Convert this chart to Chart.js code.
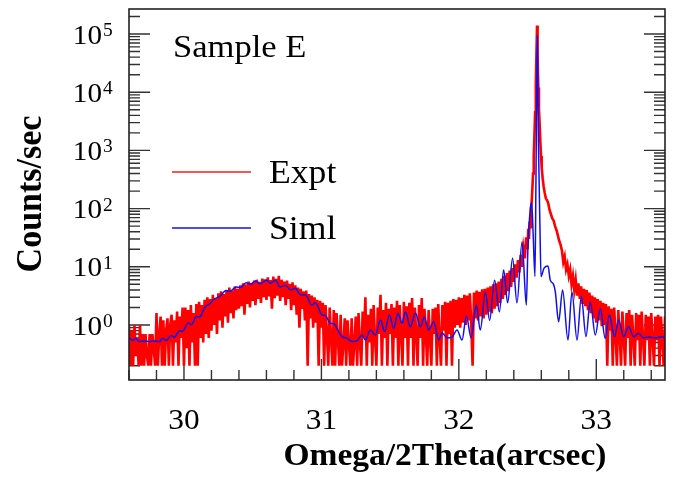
<!DOCTYPE html>
<html><head><meta charset="utf-8">
<script src="https://cdn.jsdelivr.net/npm/chart.js@4.4.0/dist/chart.umd.min.js"></script>
<style>html,body{margin:0;padding:0;background:#fff}#wrap{width:674px;height:477px}</style>
</head><body><div id="wrap"><canvas id="c" width="674" height="477"></canvas></div>
<script>
// ---- data ----
const exptX=[
29.60,29.61,29.62,29.63,29.64,29.65,29.66,29.67,29.68,29.69,
29.70,29.71,29.72,29.73,29.74,29.75,29.76,29.77,29.78,29.79,
29.80,29.81,29.82,29.83,29.84,29.85,29.86,29.87,29.88,29.89,
29.90,29.91,29.92,29.93,29.94,29.95,29.96,29.97,29.98,29.99,
30.00,30.01,30.02,30.03,30.04,30.05,30.06,30.07,30.08,30.09,
30.10,30.11,30.12,30.13,30.14,30.15,30.16,30.17,30.18,30.19,
30.20,30.21,30.22,30.23,30.24,30.25,30.26,30.27,30.28,30.29,
30.30,30.31,30.32,30.33,30.34,30.35,30.36,30.37,30.38,30.39,
30.40,30.41,30.42,30.43,30.44,30.45,30.46,30.47,30.48,30.49,
30.50,30.51,30.52,30.53,30.54,30.55,30.56,30.57,30.58,30.59,
30.60,30.61,30.62,30.63,30.64,30.65,30.66,30.67,30.68,30.69,
30.70,30.71,30.72,30.73,30.74,30.75,30.76,30.77,30.78,30.79,
30.80,30.81,30.82,30.83,30.84,30.85,30.86,30.87,30.88,30.89,
30.90,30.91,30.92,30.93,30.94,30.95,30.96,30.97,30.98,30.99,
31.00,31.01,31.02,31.03,31.04,31.05,31.06,31.07,31.08,31.09,
31.10,31.11,31.12,31.13,31.14,31.15,31.16,31.17,31.18,31.19,
31.20,31.21,31.22,31.23,31.24,31.25,31.26,31.27,31.28,31.29,
31.30,31.31,31.32,31.33,31.34,31.35,31.36,31.37,31.38,31.39,
31.40,31.41,31.42,31.43,31.44,31.45,31.46,31.47,31.48,31.49,
31.50,31.51,31.52,31.53,31.54,31.55,31.56,31.57,31.58,31.59,
31.60,31.61,31.62,31.63,31.64,31.65,31.66,31.67,31.68,31.69,
31.70,31.71,31.72,31.73,31.74,31.75,31.76,31.77,31.78,31.79,
31.80,31.81,31.82,31.83,31.84,31.85,31.86,31.87,31.88,31.89,
31.90,31.91,31.92,31.93,31.94,31.95,31.96,31.97,31.98,31.99,
32.00,32.01,32.02,32.03,32.04,32.05,32.06,32.07,32.08,32.09,
32.10,32.11,32.12,32.13,32.14,32.15,32.16,32.17,32.18,32.19,
32.20,32.21,32.22,32.23,32.24,32.25,32.26,32.27,32.28,32.29,
32.30,32.31,32.32,32.33,32.34,32.35,32.36,32.37,32.38,32.39,
32.40,32.41,32.42,32.43,32.44,32.45,32.46,32.47,32.48,32.49,
32.50,32.505,32.51,32.515,32.52,32.525,32.53,32.535,32.54,32.545,
32.55,32.555,32.56,32.565,32.569,32.573,32.578,32.583,32.588,32.593,
32.598,32.603,32.61,32.617,32.625,32.633,32.641,32.65,32.66,32.67,
32.68,32.69,32.70,32.71,32.72,32.73,32.74,
32.75,32.76,32.77,32.78,32.79,32.80,32.81,32.82,32.83,32.84,
32.85,32.86,32.87,32.88,32.89,32.90,32.91,32.92,32.93,32.94,
32.95,32.96,32.97,32.98,32.99,33.00,33.01,33.02,33.03,33.04,
33.05,33.06,33.07,33.08,33.09,33.10,33.11,33.12,33.13,33.14,
33.15,33.16,33.17,33.18,33.19,33.20,33.21,33.22,33.23,33.24,
33.25,33.26,33.27,33.28,33.29,33.30,33.31,33.32,33.33,33.34,
33.35,33.36,33.37,33.38,33.39,33.40,33.41,33.42,33.43,33.44,
33.45,33.46,33.47,33.48,33.49,33.50];
const exptY=[
1.0,0.2,0.8,0.2,1.0,0.3,0.6,0.2,1.0,0.2,
0.7,0.2,0.7,0.3,0.2,0.7,0.2,0.7,0.4,0.2,
1.6,0.2,0.7,1.4,0.2,1.2,0.2,0.8,1.3,0.2,
1.0,1.5,0.2,1.2,0.5,1.7,0.2,1.4,0.6,2.0,
0.2,2.0,0.4,1.8,0.2,2.2,0.5,1.6,0.2,2.3,
0.2,2.5,0.6,2.2,0.5,2.7,0.7,3.0,0.6,2.8,
0.8,3.3,1.0,2.9,0.7,3.5,1.2,3.8,0.9,3.4,
1.4,4.0,1.1,4.4,1.6,3.9,1.3,4.6,1.8,4.2,
1.9,4.8,2.1,5.2,1.5,5.0,2.3,5.6,2.0,5.3,
2.6,5.8,2.2,6.0,2.8,5.5,2.4,6.3,3.0,6.1,
2.7,6.6,3.1,5.9,1.9,6.8,2.9,6.2,3.2,7.0,
2.6,6.0,3.0,5.6,2.2,5.8,2.8,5.1,1.8,5.4,
2.2,4.8,1.5,4.4,0.9,4.2,1.9,3.8,1.2,3.9,
0.2,3.4,1.3,3.2,0.9,3.0,1.1,2.7,0.2,2.6,
0.9,2.4,0.2,2.2,0.7,0.2,2.0,0.6,0.2,1.8,
0.2,1.6,0.6,0.2,1.5,0.2,0.5,1.3,0.2,1.2,
0.5,0.2,1.3,0.2,0.5,1.4,0.2,1.6,0.5,0.2,
1.7,0.6,3.0,0.2,1.5,0.5,1.9,0.2,2.2,0.6,
0.2,2.0,0.7,3.3,0.2,1.8,0.6,2.4,0.2,1.9,
0.7,2.3,0.2,2.0,0.6,2.6,0.2,2.2,0.7,0.2,
2.5,0.6,2.1,0.2,2.4,0.6,2.9,0.2,2.0,0.7,
0.2,2.2,0.6,2.9,0.2,1.9,0.7,0.2,1.8,0.6,
0.2,1.9,0.7,2.0,0.2,2.3,0.6,0.2,2.2,0.8,
2.5,0.2,2.4,0.7,2.6,0.2,2.8,0.9,2.7,1.0,
3.0,0.9,2.9,1.1,3.3,1.0,3.2,1.2,3.5,1.1,
0.2,3.6,1.3,3.9,1.2,3.7,1.4,4.1,1.3,4.2,
1.5,4.4,1.7,4.6,1.6,5.0,1.9,5.2,2.1,5.6,
2.4,6.2,2.8,7.0,3.3,7.8,3.8,8.6,4.5,9.5,
5.5,11,6.5,13,8,16,10,21,14,32,
20,45,30,60,48,95,130,220,400,800,
1800,4500,13000,50000,140000,45000,12000,5000,2800,1400,
800,500,330,240,185,150,140,125,95,80,
68,62,50,43,35,28,24,
19,12,15,9,11,7,9,5,7,4,
6,3.2,5.2,2.8,4.6,2.3,4.2,2.1,4.0,1.8,
3.6,1.6,3.2,1.3,3.0,1.1,2.8,1.2,2.6,0.95,
2.4,1.0,2.3,0.2,2.1,0.8,1.9,0.2,2.0,0.7,
0.2,1.8,0.7,0.2,1.7,0.6,0.2,1.6,0.6,1.8,
0.2,1.5,0.6,0.2,1.6,0.55,1.5,0.2,1.7,0.6,
0.2,1.5,0.55,1.4,0.2,1.6,0.6,0.2,1.4,0.55,
1.5,0.2,1.4,0.6,0.2,1.4];
const simX=[29.604,29.628,29.647,29.676,29.712,29.749,29.785,29.82,29.846,29.87,
29.907,29.931,29.967,29.99,30.03,30.055,30.09,30.115,30.15,30.185,
30.22,30.26,30.307,30.335,30.38,30.41,30.452,30.485,30.52,30.554,
30.60,30.63,30.665,30.70,30.74,30.775,30.81,30.847,30.884,30.93,
30.956,31.005,31.03,31.065,31.09,31.126,31.15,31.187,31.223,31.26,
31.296,31.32,31.356,31.393,31.43,31.46,31.495,31.526,31.557,31.587,
31.611,31.647,31.684,31.72,31.749,31.78,31.817,31.853,31.878,31.914,
31.95,31.987,32.023,32.055,32.089,32.127,32.156,32.193,32.224,32.26,
32.295,32.326,32.355,32.391,32.423,32.46,32.491,32.502,32.52,32.53,
32.54,32.554,32.561,32.566,32.571,32.575,32.579,32.584,32.59,32.598,
32.62,32.649,32.665,32.689,32.702,32.726,32.755,32.794,32.823,32.86,
32.891,32.925,32.956,32.993,33.029,33.065,33.095,33.133,33.162,33.2,
33.235,33.271,33.308,33.344,33.38,33.43,33.478,33.50];
const simY=[0.60,0.54,0.59,0.52,0.53,0.52,0.53,0.52,0.59,0.54,
0.66,0.62,0.80,0.78,1.08,1.02,1.40,1.38,2.0,2.3,
2.8,3.1,3.9,3.8,4.5,4.4,5.3,5.0,5.7,5.1,
5.9,5.2,5.9,4.5,4.8,4.0,4.3,3.3,3.3,2.2,
2.4,1.49,1.45,1.07,1.05,0.77,0.63,0.59,0.52,0.54,
0.67,0.55,0.82,0.67,1.22,0.77,1.48,0.88,1.59,1.07,
1.69,0.93,1.60,0.93,1.37,0.82,1.14,0.55,0.73,0.60,
0.62,0.82,0.55,1.43,0.60,2.2,0.82,3.7,1.2,5.9,
1.69,8.8,2.4,14,2.4,27,2.2,19,100,126,
40,6.8,300,8000,96000,15000,1500,300,50,6.8,
9.5,10.3,5.9,5.0,3.7,1.14,4.0,0.55,3.7,0.55,
3.1,0.63,2.5,0.67,1.93,0.59,1.48,0.63,1.22,0.63,
0.94,0.63,0.72,0.60,0.62,0.60,0.63,0.60];
const seriesNames=['Expt','Siml'];
const xTickValues=[30,31,32,33];
const yTickExponents=[0,1,2,3,4,5];
const sampleLabel='Sample E';
const xTitle='Omega/2Theta(arcsec)';
const yTitle='Counts/sec';
const xMin=29.6,xMax=33.5,yMin=0.1135,yMax=2.69e5;

// ---- drawing ----
const SERIF="'Liberation Serif','Times New Roman',serif";
const SX=1.08;
function stext(ctx,txt,x,y,font,align){
  ctx.save();ctx.font=font;ctx.textAlign=align||'left';ctx.textBaseline='alphabetic';
  ctx.fillStyle='#000';ctx.translate(x,y);ctx.scale(SX,1);ctx.fillText(txt,0,0);ctx.restore();
}
const deco={id:'deco',
  beforeDatasetsDraw(chart){
    const {ctx,chartArea:a,scales:{x,y}}=chart;
    ctx.save();ctx.strokeStyle='#333';ctx.lineWidth=1.4;ctx.beginPath();
    for(let k=-1;k<=5;k++){for(let m=1;m<=9;m++){
      const v=m*Math.pow(10,k); if(v<yMin||v>yMax) continue;
      const py=y.getPixelForValue(v); const len=m===1?21:11;
      ctx.moveTo(a.left,py);ctx.lineTo(a.left+len,py);
      ctx.moveTo(a.right,py);ctx.lineTo(a.right-len,py);
    }}
    for(let i=Math.ceil(xMin*5);i<=Math.floor(xMax*5);i++){
      const v=i/5; const px=x.getPixelForValue(v); const len=(i%5===0)?21:10;
      ctx.moveTo(px,a.bottom);ctx.lineTo(px,a.bottom-len);
    }
    ctx.stroke();ctx.restore();
  },
  afterDatasetsDraw(chart){
    const {ctx,chartArea:a}=chart;
    ctx.save();ctx.strokeStyle='#222';ctx.lineWidth=1.6;
    ctx.strokeRect(a.left,a.top,a.right-a.left,a.bottom-a.top);ctx.restore();
  },
  afterDraw(chart){
    const {ctx,chartArea:a,scales:{x,y}}=chart;
    yTickExponents.forEach(e=>{
      const py=y.getPixelForValue(Math.pow(10,e));
      stext(ctx,'10',102,py+9.5,'27px '+SERIF,'right');
      stext(ctx,String(e),103,py+2,'18px '+SERIF,'left');
    });
    xTickValues.forEach(v=>{
      stext(ctx,String(v),x.getPixelForValue(v),429,'29px '+SERIF,'center');
    });
    stext(ctx,xTitle,445,465,'bold 31px '+SERIF,'center');
    ctx.save();ctx.translate(41,194);ctx.scale(SX,1);ctx.rotate(-Math.PI/2);
    ctx.font='bold 34px '+SERIF;ctx.textAlign='center';ctx.fillStyle='#000';
    ctx.fillText(yTitle,0,0);ctx.restore();
    stext(ctx,sampleLabel,173,57,'32px '+SERIF,'left');
    const leg=[{c:'#ff1a1a',y:172,t:seriesNames[0]},{c:'#1010ee',y:228,t:seriesNames[1]}];
    leg.forEach(l=>{
      ctx.save();ctx.strokeStyle=l.c;ctx.lineWidth=1.6;ctx.beginPath();
      ctx.moveTo(172,l.y);ctx.lineTo(251,l.y);ctx.stroke();ctx.restore();
      stext(ctx,l.t,269,l.y+11,'33px '+SERIF,'left');
    });
  }
};
new Chart(document.getElementById('c'),{
  type:'line',
  data:{datasets:[
    {label:seriesNames[1],data:simX.map((v,i)=>({x:v,y:simY[i]})),borderColor:'#1010ee',borderWidth:1.5,
     pointRadius:0,cubicInterpolationMode:'monotone',fill:false,order:1},
    {label:seriesNames[0],data:exptX.map((v,i)=>({x:v,y:exptY[i]})),borderColor:'#ff0000',borderWidth:2.6,
     pointRadius:0,tension:0,fill:false,order:2}
  ]},
  options:{
    responsive:false,animation:false,devicePixelRatio:1,
    layout:{padding:{left:129,right:9,top:9,bottom:97}},
    plugins:{legend:{display:false},tooltip:{enabled:false}},
    scales:{
      x:{type:'linear',min:xMin,max:xMax,display:false},
      y:{type:'logarithmic',min:yMin,max:yMax,display:false}
    }
  },
  plugins:[deco]
});
</script></body></html>
